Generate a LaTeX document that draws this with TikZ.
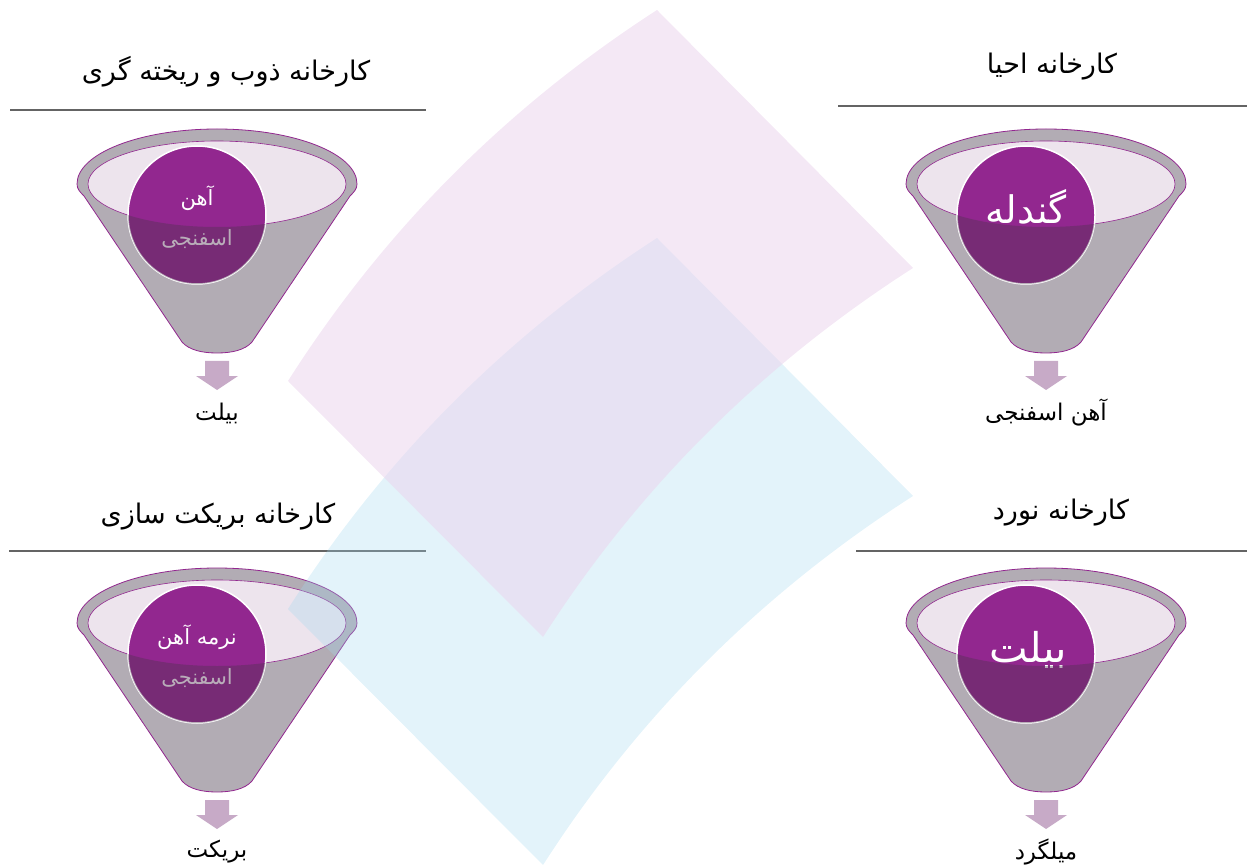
\documentclass[tikz,border=0pt]{standalone}
\usepackage{fontspec}
\usepackage{xcolor}
\newfontfamily\fa[Script=Arabic]{DejaVu Sans}
\TeXXeTstate=1

\definecolor{funnelgrey}{RGB}{178,172,180}
\definecolor{mouthpink}{RGB}{237,228,237}
\definecolor{coreviolet}{RGB}{146,39,143}
\definecolor{shadeviolet}{RGB}{80,50,80}
\definecolor{dropmauve}{RGB}{199,170,199}
\definecolor{sheetpink}{RGB}{235,213,237}
\definecolor{sheetblue}{RGB}{162,215,238}
\definecolor{rulegrey}{RGB}{100,100,100}

\tikzset{
  funnel/.style={fill=funnelgrey, draw=coreviolet, line width=0.8pt},
  mouth/.style={fill=mouthpink, draw=coreviolet, line width=0.6pt},
  core/.style={fill=coreviolet, draw=white, line width=1.5pt},
  coretext/.style={text=white, align=center, inner sep=0pt},
  shade/.style={fill=shadeviolet, opacity=0.4},
  drop/.style={fill=dropmauve},
  title/.style={font=\fa\fontsize{27}{30}\selectfont, inner sep=0pt},
  output/.style={font=\fa\fontsize{23}{26}\selectfont, inner sep=0pt},
  rule/.style={draw=rulegrey, line width=1.1pt}
}

\begin{document}
\begin{tikzpicture}[x=1pt,y=1pt]
\useasboundingbox (0,0) rectangle (1247,-866);

% titles and rules
\node[title] (zob-title) at (226,-72) {\beginR کارخانه ذوب و ریخته گری\endR};
\draw[rule] (10,-110) -- (426,-110);
\node[title] (ahya-title) at (1052,-67) {\beginR کارخانه احیا\endR};
\draw[rule] (838,-106) -- (1247,-106);
\node[title] (briket-title) at (218,-517) {\beginR کارخانه بریکت سازی\endR};
\draw[rule] (9,-551) -- (426,-551);
\node[title] (nord-title) at (1061,-513) {\beginR کارخانه نورد\endR};
\draw[rule] (856,-551) -- (1247,-551);

% funnel: zob
\begin{scope}[shift={(217,-184)}]
  \path[funnel] (-140,0) arc[start angle=180, end angle=0, x radius=140, y radius=55]
    .. controls (140,-5) and (137,-8) .. (133,-12) -- (35,-158)
    .. controls (28,-166) and (15,-169) .. (0,-169)
    .. controls (-15,-169) and (-28,-166) .. (-35,-158) -- (-133,-12)
    .. controls (-137,-8) and (-140,-5) .. (-140,0) -- cycle;
  \path[mouth] (0,0) ellipse [x radius=129, y radius=43];
  \path[core] (-20,-31) circle [radius=69];
  \node[coretext, font=\fa\fontsize{21}{40}\selectfont] (zob-core) at (-20,-33)
    {\beginR آهن\endR\\\beginR اسفنجی\endR};
  \begin{scope}
    \clip (-20,-31) circle [radius=69];
    \path[shade] (-129,0) arc[start angle=180, end angle=360, x radius=129, y radius=43]
      -- (129,-120) -- (-129,-120) -- cycle;
  \end{scope}
  \path[drop] (-12,-177) -- (12,-177) -- (12,-192) -- (21,-192) -- (0,-206)
    -- (-21,-192) -- (-12,-192) -- cycle;
  \node[output] (zob-out) at (0,-229) {\beginR بیلت\endR};
\end{scope}

% funnel: ahya
\begin{scope}[shift={(1046,-184)}]
  \path[funnel] (-140,0) arc[start angle=180, end angle=0, x radius=140, y radius=55]
    .. controls (140,-5) and (137,-8) .. (133,-12) -- (35,-158)
    .. controls (28,-166) and (15,-169) .. (0,-169)
    .. controls (-15,-169) and (-28,-166) .. (-35,-158) -- (-133,-12)
    .. controls (-137,-8) and (-140,-5) .. (-140,0) -- cycle;
  \path[mouth] (0,0) ellipse [x radius=129, y radius=43];
  \path[core] (-20,-31) circle [radius=69];
  \node[coretext, font=\fa\fontsize{38}{40}\selectfont] (ahya-core) at (-20,-23)
    {\beginR گندله\endR};
  \begin{scope}
    \clip (-20,-31) circle [radius=69];
    \path[shade] (-129,0) arc[start angle=180, end angle=360, x radius=129, y radius=43]
      -- (129,-120) -- (-129,-120) -- cycle;
  \end{scope}
  \path[drop] (-12,-177) -- (12,-177) -- (12,-192) -- (21,-192) -- (0,-206)
    -- (-21,-192) -- (-12,-192) -- cycle;
  \node[output] (ahya-out) at (0,-229) {\beginR آهن اسفنجی\endR};
\end{scope}

% funnel: briket
\begin{scope}[shift={(217,-623)}]
  \path[funnel] (-140,0) arc[start angle=180, end angle=0, x radius=140, y radius=55]
    .. controls (140,-5) and (137,-8) .. (133,-12) -- (35,-158)
    .. controls (28,-166) and (15,-169) .. (0,-169)
    .. controls (-15,-169) and (-28,-166) .. (-35,-158) -- (-133,-12)
    .. controls (-137,-8) and (-140,-5) .. (-140,0) -- cycle;
  \path[mouth] (0,0) ellipse [x radius=129, y radius=43];
  \path[core] (-20,-31) circle [radius=69];
  \node[coretext, font=\fa\fontsize{21}{40}\selectfont] (briket-core) at (-20,-33)
    {\beginR نرمه آهن\endR\\\beginR اسفنجی\endR};
  \begin{scope}
    \clip (-20,-31) circle [radius=69];
    \path[shade] (-129,0) arc[start angle=180, end angle=360, x radius=129, y radius=43]
      -- (129,-120) -- (-129,-120) -- cycle;
  \end{scope}
  \path[drop] (-12,-177) -- (12,-177) -- (12,-192) -- (21,-192) -- (0,-206)
    -- (-21,-192) -- (-12,-192) -- cycle;
  \node[output] (briket-out) at (0,-229) {\beginR بریکت\endR};
\end{scope}

% funnel: nord
\begin{scope}[shift={(1046,-623)}]
  \path[funnel] (-140,0) arc[start angle=180, end angle=0, x radius=140, y radius=55]
    .. controls (140,-5) and (137,-8) .. (133,-12) -- (35,-158)
    .. controls (28,-166) and (15,-169) .. (0,-169)
    .. controls (-15,-169) and (-28,-166) .. (-35,-158) -- (-133,-12)
    .. controls (-137,-8) and (-140,-5) .. (-140,0) -- cycle;
  \path[mouth] (0,0) ellipse [x radius=129, y radius=43];
  \path[core] (-20,-31) circle [radius=69];
  \node[coretext, font=\fa\fontsize{41}{44}\selectfont] (nord-core) at (-18,-27)
    {\beginR بیلت\endR};
  \begin{scope}
    \clip (-20,-31) circle [radius=69];
    \path[shade] (-129,0) arc[start angle=180, end angle=360, x radius=129, y radius=43]
      -- (129,-120) -- (-129,-120) -- cycle;
  \end{scope}
  \path[drop] (-12,-177) -- (12,-177) -- (12,-192) -- (21,-192) -- (0,-206)
    -- (-21,-192) -- (-12,-192) -- cycle;
  \node[output] (nord-out) at (0,-229) {\beginR میلگرد\endR};
\end{scope}

% background sheets
\path[fill=sheetblue, opacity=0.3] (288,-609) .. controls (384,-458) and (507,-335) .. (657,-238)
  -- (913,-496) .. controls (763,-592) and (639,-715) .. (543,-865) -- cycle;
\path[fill=sheetpink, opacity=0.55] (288,-381) .. controls (384,-230) and (507,-107) .. (657,-10)
  -- (913,-268) .. controls (763,-364) and (639,-487) .. (543,-637) -- cycle;

\end{tikzpicture}
\end{document}
